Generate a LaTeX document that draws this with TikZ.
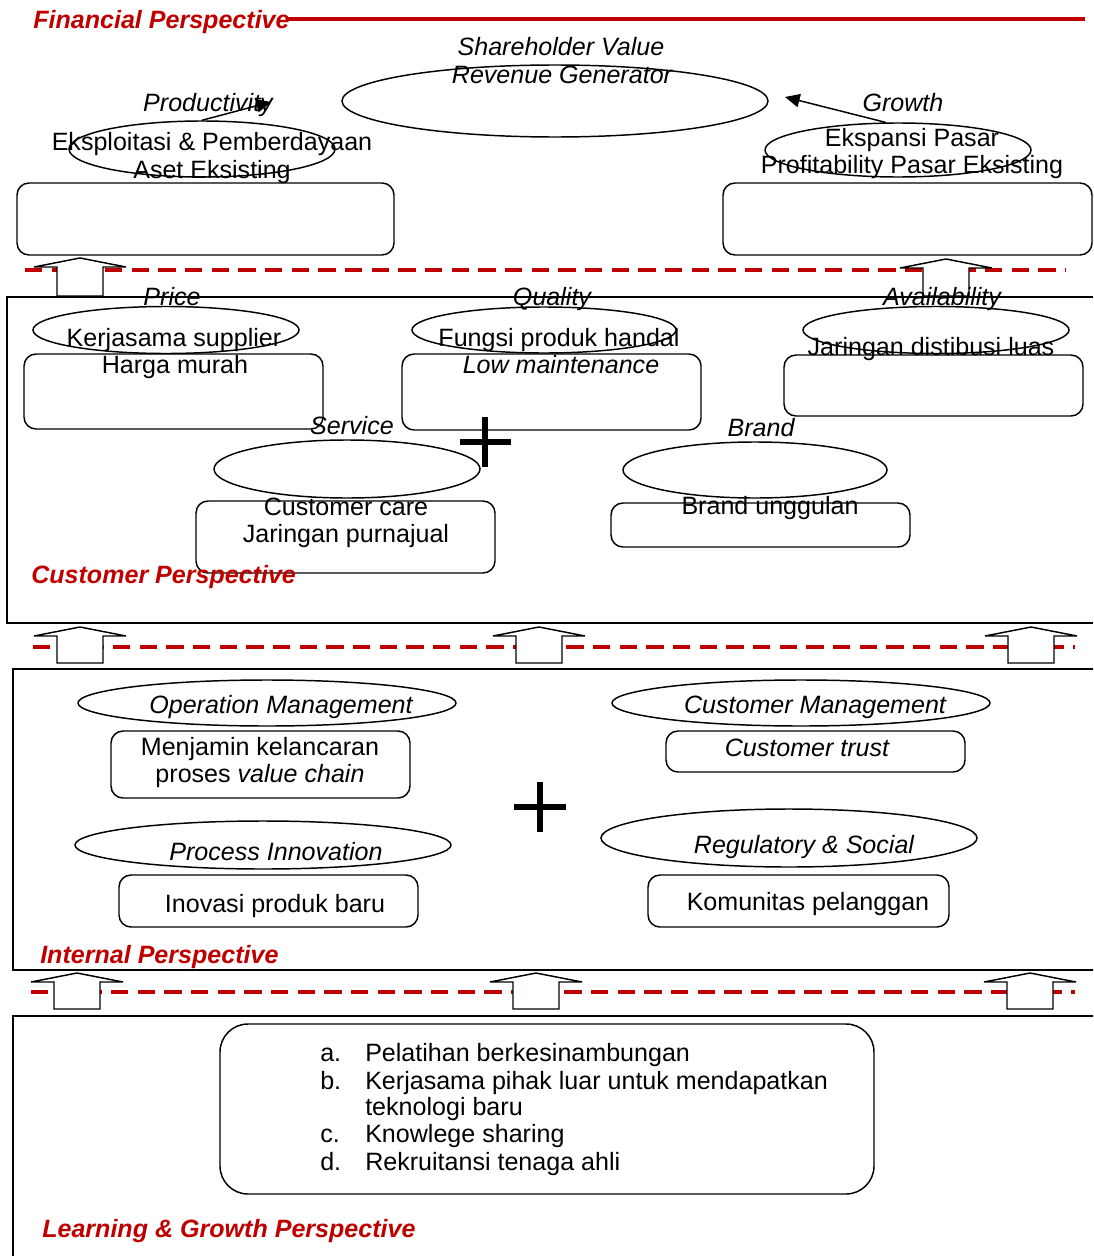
\documentclass[tikz,border=0pt]{standalone}
\usepackage{fontspec}
\setmainfont{Liberation Sans}
\usetikzlibrary{shapes.geometric,arrows.meta}
\definecolor{pred}{HTML}{C00000}
\tikzset{
  shp/.style={draw=black, line width=1.1pt, inner sep=0pt},
  rbox/.style={shp, rectangle, rounded corners=9pt},
  ellbox/.style={shp, ellipse},
  txt/.style={anchor=base, inner sep=0pt, font=\fontsize{18.8}{22}\selectfont},
  itxt/.style={anchor=base, inner sep=0pt, font=\fontsize{18.8}{22}\selectfont\itshape},
  ltxt/.style={anchor=base west, inner sep=0pt, font=\fontsize{18.8}{22}\selectfont},
  ptitle/.style={anchor=base west, inner sep=0pt, text=pred, font=\fontsize{18.8}{22}\selectfont\bfseries\itshape},
  frame/.style={draw=black, line width=1.1pt},
  reddash/.style={draw=pred, line width=2.5pt, dash pattern=on 13pt off 7pt},
  uparrow/.style={draw=black, fill=white, line width=1.1pt, line join=miter},
  plussign/.style={draw=black, line width=4.5pt},
  ptr/.style={draw=black, line width=1.1pt, -{Triangle[length=11pt,width=10pt]}}
}
\newcommand{\RB}[6][]{\node[rbox,#1, minimum width={(#5-#3)*0.75pt}, minimum height={(#6-#4)*0.75pt}] (#2) at ({(#3+#5)/2},{(#4+#6)/2}) {};}
\newcommand{\EL}[5]{\node[ellbox, minimum width={2*#4*0.75pt}, minimum height={2*#5*0.75pt}] (#1) at (#2,#3) {};}
\newcommand{\UPA}[3]{\draw[uparrow] (#1,#2) -- ({#1+46},{#2+9}) -- ({#1+23},{#2+9}) -- ({#1+23},#3) -- ({#1-23},#3) -- ({#1-23},{#2+9}) -- ({#1-46},{#2+9}) -- cycle;}
\begin{document}
\begin{tikzpicture}[x=0.75pt,y=-0.75pt]
\useasboundingbox (0,0) rectangle (1093,1256);
\clip (0,0) rectangle (1093,1256);
\fill[white] (0,0) rectangle (1093,1256);

% ---------- Financial perspective ----------
\node[ptitle] (fin) at (33,29) {Financial Perspective};
\draw[pred, line width=2.6pt] (286,19) -- (1085,19);

\EL{shell}{555}{101}{213}{36}
\node[itxt] (sv1) at (561,56) {Shareholder Value};
\node[itxt] (sv2) at (562,84) {Revenue Generator};

\EL{prodell}{202}{149}{133}{28}
\node[itxt] (prodlab) at (208,111) {Productivity};
\node[txt] (prod1) at (212,150) {Eksploitasi \& Pemberdayaan};
\node[txt] (prod2) at (212,178) {Aset Eksisting};
\coordinate (prodtip) at (271,102);
\draw[ptr] (prodell.north) -- (prodtip);
\RB{finL}{17}{183}{394}{255}

\EL{growell}{898}{150}{133}{27}
\node[itxt] (growlab) at (903,111) {Growth};
\node[txt] (grow1) at (912,146) {Ekspansi Pasar};
\node[txt] (grow2) at (912,173) {Profitability Pasar Eksisting};
\coordinate (growtip) at (785,97);
\draw[ptr] (growell.114) -- (growtip);
\RB{finR}{723}{183}{1092}{255}

% separator 1
\draw[reddash] (25,270) -- (1066,270);
\UPA{80}{258}{296}
\UPA{946}{259}{296}

% ---------- Customer perspective ----------
\draw[frame] (7,297) rectangle (1098,623);

\EL{priceell}{166}{330}{133}{23.5}
\node[itxt] (pricelab) at (172,305) {Price};
\RB{pricebox}{24}{354}{323}{429}
\node[txt] (price1) at (174,346) {Kerjasama supplier};
\node[txt] (price2) at (175,373) {Harga murah};

\EL{qualell}{544}{330}{132}{23}
\node[itxt] (quallab) at (552,305) {Quality};
\RB{qualbox}{402}{354}{701}{430}
\node[txt] (qual1) at (559,346) {Fungsi produk handal};
\node[itxt] (qual2) at (561,373) {Low maintenance};

\EL{availell}{936}{330}{133}{23.5}
\node[itxt] (availlab) at (942,305) {Availability};
\RB{availbox}{784}{355}{1083}{416}
\node[txt] (avail1) at (931,355) {Jaringan distibusi luas};

\EL{servell}{347}{469}{133}{29}
\node[itxt] (servlab) at (352,434) {Service};
\RB{servbox}{196}{501}{495}{573}
\node[txt] (serv1) at (346,515) {Customer care};
\node[txt] (serv2) at (346,542) {Jaringan purnajual};

\EL{brandell}{755}{470}{132}{28}
\node[itxt] (brandlab) at (761,436) {Brand};
\RB{brandbox}{611}{503}{910}{547}
\node[txt] (brand1) at (770,514) {Brand unggulan};

\draw[plussign] (460,442) -- (511,442);
\draw[plussign] (485,417) -- (485,467);

\node[ptitle] (custtitle) at (31,583) {Customer Perspective};

% separator 2
\draw[reddash] (33,647) -- (1075,647);
\UPA{80}{627}{663}
\UPA{539}{627}{663}
\UPA{1031}{627}{663}

% ---------- Internal perspective ----------
\draw[frame] (13,669) rectangle (1098,970);

\EL{opell}{267}{703}{189}{23}
\node[itxt] (oplab) at (281,713) {Operation Management};
\RB{opbox}{111}{731}{410}{798}
\node[txt] (op1) at (260,755) {Menjamin kelancaran};
\node[txt] (op2) at (260,782) {proses \textit{value chain}};

\EL{cmell}{801}{703}{189}{23}
\node[itxt] (cmlab) at (815,713) {Customer Management};
\RB{cmbox}{666}{731}{965}{772}
\node[itxt] (cm1) at (807,756) {Customer trust};

\EL{piell}{263}{845}{188}{24}
\node[itxt] (pilab) at (276,860) {Process Innovation};
\RB{pibox}{119}{875}{418}{927}
\node[txt] (pi1) at (275,912) {Inovasi produk baru};

\EL{regell}{789}{838}{188}{29}
\node[itxt] (reglab) at (804,853) {Regulatory \& Social};
\RB{regbox}{648}{875}{949}{927}
\node[txt] (reg1) at (808,910) {Komunitas pelanggan};

\draw[plussign] (514,807) -- (566,807);
\draw[plussign] (540,782) -- (540,832);

\node[ptitle] (inttitle) at (40,963) {Internal Perspective};

% separator 3
\draw[reddash] (31,992) -- (1075,992);
\UPA{77}{973}{1009}
\UPA{536}{973}{1009}
\UPA{1030}{973}{1009}

% ---------- Learning & Growth perspective ----------
\draw[frame] (13,1016) rectangle (1098,1262);
\RB[rounded corners=21pt]{lgbox}{220}{1024}{874}{1194}
\node[ltxt] (la) at (320,1061) {a.};
\node[ltxt] (lat) at (365,1061) {Pelatihan berkesinambungan};
\node[ltxt] (lb) at (320,1089) {b.};
\node[ltxt] (lbt) at (365,1089) {Kerjasama pihak luar untuk mendapatkan};
\node[ltxt] (lbt2) at (365,1115) {teknologi baru};
\node[ltxt] (lc) at (320,1142) {c.};
\node[ltxt] (lct) at (365,1142) {Knowlege sharing};
\node[ltxt] (ld) at (320,1170) {d.};
\node[ltxt] (ldt) at (365,1170) {Rekruitansi tenaga ahli};

\node[ptitle] (lgtitle) at (42,1237) {Learning \& Growth Perspective};
\end{tikzpicture}
\end{document}
